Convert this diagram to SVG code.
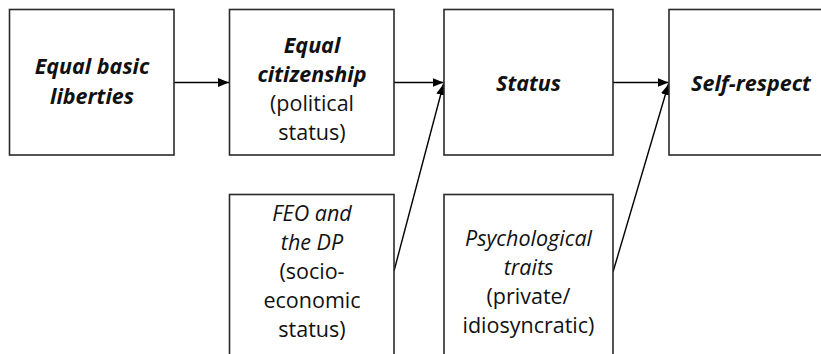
<svg xmlns="http://www.w3.org/2000/svg" width="821" height="354" viewBox="0 0 821 354">
  <style>
    .box { fill: #ffffff; stroke: #2a2a2a; stroke-width: 1.6; }
    .edge { fill: none; stroke: #000000; stroke-width: 1.4; }
    text { font-family: "Open Sans", "Noto Sans", sans-serif; font-size: 21.5px; fill: #111111; text-anchor: middle; }
    .hb { font-weight: bold; font-style: italic; }
    .hi { font-style: italic; }
  </style>
  <defs>
    <marker id="arrow" viewBox="0 0 11 9" refX="11" refY="4.5" markerWidth="11" markerHeight="9" markerUnits="userSpaceOnUse" orient="auto">
      <path d="M0,0 L11,4.5 L0,9 Z" fill="#000000"/>
    </marker>
  </defs>

  <g id="connectors">
    <line class="edge" x1="174" y1="82.5" x2="229" y2="82.5" marker-end="url(#arrow)"/>
    <line class="edge" x1="394" y1="82.5" x2="443.5" y2="82.5" marker-end="url(#arrow)"/>
    <line class="edge" x1="613" y1="82.5" x2="668.5" y2="82.5" marker-end="url(#arrow)"/>
    <line class="edge" x1="394" y1="271" x2="443.5" y2="84" marker-end="url(#arrow)"/>
    <line class="edge" x1="613" y1="272" x2="668.5" y2="84" marker-end="url(#arrow)"/>
  </g>

  <g id="equal-basic-liberties">
    <rect class="box" x="9.5" y="9.5" width="164.5" height="145.5"/>
    <text class="hb" x="92" y="74">Equal basic</text>
    <text class="hb" x="92" y="104">liberties</text>
  </g>

  <g id="equal-citizenship">
    <rect class="box" x="229.5" y="9.5" width="164.5" height="145.5"/>
    <text class="hb" x="312" y="53">Equal</text>
    <text class="hb" x="312" y="82">citizenship</text>
    <text x="312" y="111">(political</text>
    <text x="312" y="140">status)</text>
  </g>

  <g id="status">
    <rect class="box" x="444" y="9.5" width="169" height="145.5"/>
    <text class="hb" x="528.5" y="91">Status</text>
  </g>

  <g id="self-respect">
    <rect class="box" x="669" y="9.5" width="166" height="145.5"/>
    <text class="hb" x="751" y="91">Self-respect</text>
  </g>

  <g id="feo-dp">
    <rect class="box" x="229.5" y="194.5" width="164.5" height="170"/>
    <text class="hi" x="312" y="221">FEO and</text>
    <text class="hi" x="312" y="250">the DP</text>
    <text x="312" y="279">(socio-</text>
    <text x="312" y="308">economic</text>
    <text x="312" y="337">status)</text>
  </g>

  <g id="psychological-traits">
    <rect class="box" x="444" y="194.5" width="169" height="170"/>
    <text class="hi" x="528.5" y="246">Psychological</text>
    <text class="hi" x="528.5" y="275">traits</text>
    <text x="528.5" y="304">(private/</text>
    <text x="528.5" y="333">idiosyncratic)</text>
  </g>
</svg>
